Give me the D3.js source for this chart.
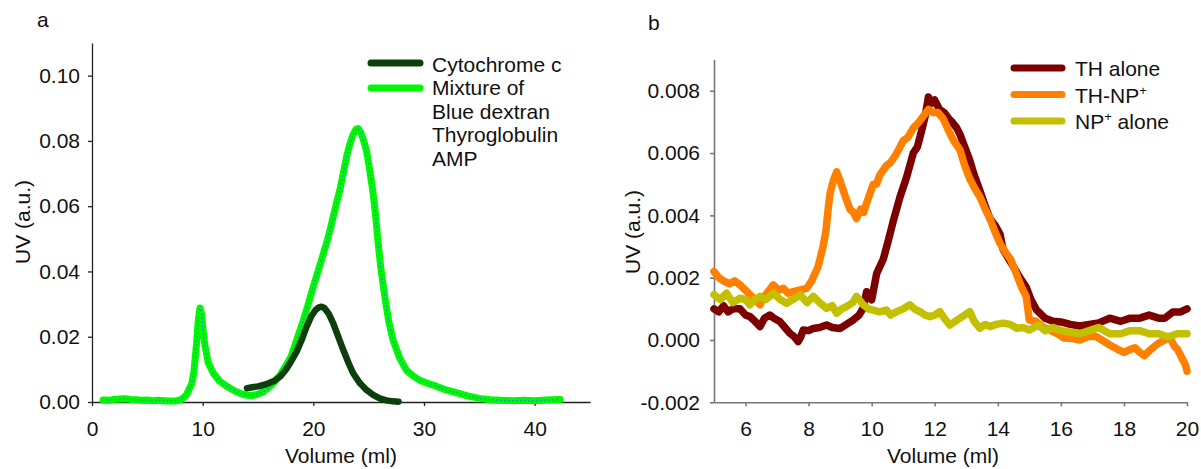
<!DOCTYPE html>
<html>
<head>
<meta charset="utf-8">
<script src="https://cdn.jsdelivr.net/npm/d3@7"></script>
<style>
body{margin:0;background:#fff;}
svg text{font-family:"Liberation Sans",Arial,sans-serif;fill:#111;}
</style>
</head>
<body>
<svg id="chart" width="1201" height="469"></svg>
<script>
// panel a - calibration run
var mixVol=[1.0,1.5,2.0,2.5,3.0,3.5,4.0,4.5,5.0,5.5,6.0,6.5,7.0,7.5,8.0,8.5,9.0,9.2,9.45,9.6,9.76,9.9,10.05,10.2,10.5,10.96,11.5,12.0,12.47,13.0,13.5,13.97,14.5,15.0,15.5,16.0,16.5,17.0,17.5,18.0,18.5,19.0,19.5,20.0,20.6,21.2,21.6,22.1,22.4,22.7,23.0,23.3,23.6,23.85,24.05,24.3,24.55,24.8,25.1,25.4,25.6,25.86,26.1,26.47,26.8,27.2,27.8,28.4,29.0,29.6,30.5,31.0,32.0,33.0,34.0,35.0,36.0,37.0,38.1,39.0,40.0,41.0,42.3];
var mixUV=[0.0006,0.0005,0.0008,0.0009,0.0010,0.0008,0.0007,0.0005,0.0006,0.0004,0.0005,0.0004,0.0003,0.0003,0.0006,0.0020,0.0055,0.0090,0.0180,0.0250,0.0288,0.0270,0.0215,0.0175,0.0120,0.0088,0.0065,0.0052,0.0042,0.0032,0.0025,0.0021,0.0020,0.0024,0.0032,0.0045,0.0062,0.0083,0.0110,0.0140,0.0190,0.0240,0.0295,0.0354,0.0420,0.0487,0.0540,0.0610,0.0650,0.0700,0.0750,0.0790,0.0820,0.0835,0.0838,0.0825,0.0800,0.0770,0.0710,0.0640,0.0580,0.0487,0.0410,0.0320,0.0250,0.0190,0.0135,0.0098,0.0080,0.0067,0.0055,0.0050,0.0037,0.0028,0.0018,0.0011,0.0007,0.0005,0.0004,0.0005,0.0004,0.0006,0.0008];
var cytVol=[14.0,14.5,15.0,15.5,16.0,16.5,17.0,17.5,18.0,18.5,19.0,19.4,19.8,20.2,20.5,20.74,21.0,21.4,21.8,22.2,22.7,23.2,23.6,24.2,24.8,25.4,26.0,26.6,27.2,27.7];
var cytUV=[0.0042,0.0045,0.0048,0.0052,0.0058,0.0065,0.0078,0.0098,0.0125,0.0155,0.0195,0.0231,0.0262,0.0282,0.0290,0.0292,0.0288,0.0270,0.0241,0.0205,0.0160,0.0118,0.0088,0.0058,0.0037,0.0022,0.0011,0.0005,0.0002,0.0001];
var aTicksX=[0,10,20,30,40];
var aTicksY=[0,0.02,0.04,0.06,0.08,0.10];
var aLegend=["Cytochrome c","Mixture of","Blue dextran","Thyroglobulin","AMP"];

// panel b
var thVol=[5.0,5.15,5.3,5.45,5.6,5.82,6.0,6.14,6.3,6.46,6.6,6.77,6.9,7.09,7.25,7.4,7.55,7.67,7.75,7.83,8.0,8.15,8.35,8.57,8.75,9.0,9.2,9.41,9.6,9.73,9.84,10.0,10.16,10.37,10.53,10.68,10.9,11.1,11.32,11.45,11.58,11.7,11.8,11.9,12.0,12.15,12.3,12.45,12.55,12.7,12.8,12.95,13.1,13.25,13.43,13.6,13.75,13.9,14.07,14.17,14.35,14.49,14.7,14.9,15.05,15.23,15.5,15.75,16.0,16.3,16.6,16.9,17.2,17.55,17.9,18.2,18.5,18.8,19.1,19.3,19.55,19.8,20.0];
var thUV=[0.0010,0.0009,0.0011,0.0009,0.0010,0.0010,0.0008,0.00075,0.0006,0.00043,0.0007,0.0008,0.0007,0.00059,0.0004,0.00022,0.0001,-0.00005,0.0001,0.00032,0.0003,0.00037,0.0004,0.00048,0.0004,0.00037,0.0005,0.00064,0.0008,0.00102,0.00155,0.00129,0.00214,0.0026,0.0032,0.0038,0.0046,0.0052,0.0060,0.0062,0.0067,0.0072,0.0078,0.0076,0.0077,0.0074,0.0073,0.0071,0.0070,0.0068,0.0066,0.0062,0.0058,0.0053,0.0048,0.0043,0.0039,0.0037,0.0034,0.0029,0.0026,0.00236,0.0020,0.0017,0.0013,0.00096,0.0007,0.0006,0.00058,0.0005,0.00045,0.0005,0.00055,0.0007,0.0006,0.0007,0.0007,0.0008,0.0007,0.0007,0.0009,0.0009,0.0010];
var thnpVol=[5.0,5.15,5.3,5.5,5.65,5.82,6.0,6.14,6.3,6.46,6.6,6.75,6.88,7.05,7.2,7.35,7.51,7.7,7.94,8.1,8.3,8.46,8.55,8.62,8.68,8.78,8.89,9.0,9.1,9.2,9.31,9.42,9.52,9.65,9.75,9.84,10.05,10.15,10.26,10.47,10.6,10.74,10.85,11.0,11.15,11.32,11.5,11.65,11.8,11.95,12.1,12.27,12.45,12.6,12.8,12.95,13.1,13.25,13.43,13.6,13.75,13.9,14.07,14.25,14.4,14.6,14.75,14.9,15.0,15.2,15.45,15.65,15.9,16.1,16.35,16.6,16.85,17.1,17.3,17.55,17.8,18.0,18.2,18.35,18.5,18.65,18.85,19.1,19.3,19.45,19.6,19.7,19.85,19.95,20.0];
var thnpUV=[0.0022,0.0020,0.0019,0.0018,0.0019,0.00177,0.0016,0.00145,0.0013,0.00113,0.0014,0.0016,0.00177,0.0016,0.00166,0.0015,0.00155,0.0016,0.00166,0.0019,0.00235,0.0030,0.0035,0.0042,0.0047,0.0051,0.0054,0.0051,0.0048,0.0045,0.0042,0.0041,0.0039,0.0042,0.0041,0.0044,0.0050,0.0050,0.0053,0.0056,0.0057,0.0059,0.0061,0.0064,0.0065,0.0068,0.0070,0.0072,0.0074,0.0073,0.0073,0.0071,0.0067,0.0064,0.0061,0.0056,0.0052,0.0049,0.0046,0.0042,0.0039,0.0035,0.0031,0.0028,0.0026,0.0021,0.0017,0.0014,0.00064,0.0006,0.0004,0.00032,0.0002,0.00006,0.00005,0.0000,0.0001,0.00012,0.0000,-0.00016,-0.0003,-0.0004,-0.0003,-0.00025,-0.0004,-0.0005,-0.0003,-0.0001,0.0000,0.0001,-0.0002,-0.0003,-0.0006,-0.0008,-0.0010];
var npVol=[5.0,5.2,5.4,5.6,5.82,6.0,6.14,6.3,6.46,6.65,6.88,7.1,7.3,7.5,7.73,7.95,8.15,8.35,8.57,8.75,8.89,9.05,9.2,9.4,9.52,9.6,9.73,9.9,10.05,10.25,10.47,10.6,10.79,11.0,11.21,11.35,11.53,11.7,11.85,12.0,12.16,12.3,12.48,12.65,12.8,12.95,13.11,13.25,13.43,13.6,13.75,13.95,14.17,14.4,14.6,14.8,15.0,15.28,15.5,15.75,16.0,16.3,16.6,16.9,17.2,17.55,17.9,18.2,18.5,18.8,19.1,19.4,19.7,20.0];
var npUV=[0.00145,0.0013,0.0015,0.0012,0.00134,0.0013,0.00113,0.0013,0.0014,0.0013,0.0015,0.0013,0.00118,0.0013,0.00145,0.0012,0.0014,0.0012,0.00102,0.0011,0.00086,0.0010,0.00107,0.0012,0.0014,0.0013,0.00113,0.0010,0.00096,0.0009,0.00096,0.0008,0.00091,0.0010,0.00113,0.0010,0.00091,0.0008,0.00075,0.0008,0.00091,0.0007,0.00048,0.0006,0.0007,0.0008,0.00091,0.0006,0.00038,0.0005,0.00043,0.0005,0.00054,0.0005,0.00038,0.0004,0.00032,0.00048,0.0003,0.0004,0.0003,0.00025,0.0002,0.0003,0.0004,0.0002,0.0002,0.0003,0.0003,0.0002,0.0002,0.0001,0.0002,0.0002];
var bTicksX=[6,8,10,12,14,16,18,20];
var bTicksY=[-0.002,0,0.002,0.004,0.006,0.008];
var bNames=["TH alone","TH-NP","NP"];
var bColors=["#7c0000","#ff8000","#c2c000"];

var svg=d3.select("#chart");
var fontSize="21px";

function zip(xs,ys){
	return xs.map(function(x,i){return [x,ys[i]];});
}

// ---------- panel a ----------
var xa=d3.scaleLinear().domain([0,45]).range([92,590]);
var ya=d3.scaleLinear().domain([0,0.11]).range([402,43]);
var lineA=d3.line().x(function(d){return xa(d[0]);}).y(function(d){return ya(d[1]);});

var gA=svg.append("g");
gA.append("g")
	.attr("class","axis")
	.attr("transform","translate(0,402)")
	.call(d3.axisBottom(xa).tickValues(aTicksX).tickSize(4).tickPadding(15).tickSizeOuter(0));
gA.append("g")
	.attr("class","axis")
	.attr("transform","translate(92,0)")
	.call(d3.axisLeft(ya).tickValues(aTicksY).tickSize(4).tickPadding(8).tickSizeOuter(0).tickFormat(function(d){return d.toFixed(2);}));

//mixture: green band with dotted blue centre
gA.append("path").datum(zip(mixVol,mixUV))
	.attr("d",lineA).attr("fill","none").attr("stroke","#00f800")
	.attr("stroke-width",7).attr("stroke-linejoin","round").attr("stroke-linecap","round");
gA.append("path").datum(zip(mixVol,mixUV))
	.attr("d",lineA).attr("fill","none").attr("stroke","#2a86e0")
	.attr("stroke-width",1.4).attr("stroke-dasharray","1.5,2.5");
gA.append("path").datum(zip(cytVol,cytUV))
	.attr("d",lineA).attr("fill","none").attr("stroke","#0c3f0c")
	.attr("stroke-width",6.5).attr("stroke-linejoin","round").attr("stroke-linecap","round");

//legend a
gA.append("line").attr("x1",371).attr("x2",420).attr("y1",63).attr("y2",63)
	.attr("stroke","#0c3f0c").attr("stroke-width",7).attr("stroke-linecap","round");
gA.append("line").attr("x1",371).attr("x2",420).attr("y1",88).attr("y2",88)
	.attr("stroke","#00f800").attr("stroke-width",7).attr("stroke-linecap","round");
gA.selectAll("text.leg").data(aLegend).enter().append("text")
	.attr("class","leg")
	.attr("x",432)
	.attr("y",function(d,i){return 71.5+i*23.5;})
	.style("font-size",fontSize)
	.text(function(d){return d;});

gA.append("text").attr("x",37).attr("y",27).style("font-size",fontSize).text("a");
gA.append("text").attr("x",341).attr("y",463).attr("text-anchor","middle").style("font-size",fontSize).text("Volume (ml)");
gA.append("text").attr("transform","translate(30,222) rotate(-90)").attr("text-anchor","middle").style("font-size",fontSize).text("UV (a.u.)");

// ---------- panel b ----------
var xb=d3.scaleLinear().domain([5,20]).range([714,1187]);
var yb=d3.scaleLinear().domain([-0.002,0.009]).range([402.3,59.6]);
var lineB=d3.line().x(function(d){return xb(d[0]);}).y(function(d){return yb(d[1]);});

var gB=svg.append("g");
gB.append("g")
	.attr("class","axis axisB")
	.attr("transform","translate(0,402.3)")
	.call(d3.axisBottom(xb).tickValues(bTicksX).tickSize(4).tickPadding(15).tickSizeOuter(0));
gB.append("g")
	.attr("class","axis axisB")
	.attr("transform","translate(714,0)")
	.call(d3.axisLeft(yb).tickValues(bTicksY).tickSize(4).tickPadding(10).tickSizeOuter(0).tickFormat(function(d){return d.toFixed(3);}));

var bSeries=[zip(thVol,thUV),zip(thnpVol,thnpUV),zip(npVol,npUV)];
gB.selectAll("path.trace").data(bSeries).enter().append("path")
	.attr("class","trace")
	.attr("d",lineB).attr("fill","none")
	.attr("stroke",function(d,i){return bColors[i];})
	.attr("stroke-width",7.5).attr("stroke-linejoin","round").attr("stroke-linecap","round");

//legend b
var legB=gB.selectAll("g.legB").data(bNames).enter().append("g")
	.attr("class","legB")
	.attr("transform",function(d,i){return "translate(0,"+(68+i*26.5)+")";});
legB.append("line").attr("x1",1014).attr("x2",1062)
	.attr("stroke",function(d,i){return bColors[i];})
	.attr("stroke-width",7).attr("stroke-linecap","round");
var legText=legB.append("text").attr("x",1075).attr("y",8).style("font-size",fontSize);
legText.each(function(d,i){
	var t=d3.select(this);
	if(i===0){
		t.text(d);
	}
	else{
		t.append("tspan").text(d);
		t.append("tspan").attr("dy",-8).style("font-size","13px").text("+");
		if(i===2){
			t.append("tspan").attr("dy",8).text(" alone");
		}
	}
});

gB.append("text").attr("x",648).attr("y",30).style("font-size",fontSize).text("b");
gB.append("text").attr("x",943).attr("y",463).attr("text-anchor","middle").style("font-size",fontSize).text("Volume (ml)");
gB.append("text").attr("transform","translate(640,232) rotate(-90)").attr("text-anchor","middle").style("font-size",fontSize).text("UV (a.u.)");

//axis styling
svg.selectAll(".axis text").style("font-size",fontSize).style("fill","#111");
svg.selectAll(".axis path, .axis line").attr("stroke","#222").attr("stroke-width",1.3);
svg.selectAll(".axisB path, .axisB line").attr("stroke","#777").attr("stroke-width",1.6);
</script>
</body>
</html>
